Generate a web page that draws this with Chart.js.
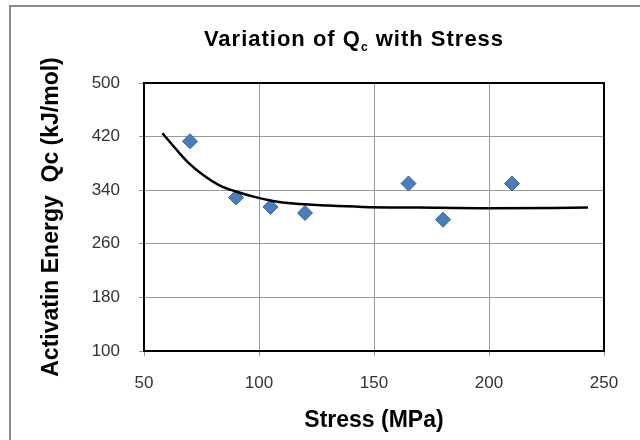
<!DOCTYPE html>
<html lang="en">
<head>
<meta charset="UTF-8">
<title>Variation of Qc with Stress</title>
<script src="https://cdn.jsdelivr.net/npm/chart.js"></script>
<style>
    body {
        margin: 0;
        padding: 0;
        background: #fff;
        overflow: hidden;
    }
    .wrap {
        position: relative;
        width: 640px;
        height: 440px;
        overflow: hidden;
    }
    .frame {
        position: absolute;
        left: 9px;
        top: 5px;
        width: 700px;
        height: 500px;
        border: 2px solid #8c8c8c;
        pointer-events: none;
    }
    .title {
        position: absolute;
        left: 154px;
        width: 400px;
        top: 26px;
        text-align: center;
        font-family: "Liberation Sans", Arial, sans-serif;
        font-weight: bold;
        font-size: 22px;
        letter-spacing: 1px;
        color: #000;
    }
    .title sub {
        font-size: 12px;
    }
    canvas {
        position: absolute;
        left: 0;
        top: 0;
    }
</style>
</head>
<body>
<div class="wrap">
    <canvas id="chart" width="640" height="440"></canvas>
    <div class="frame"></div>
    <div class="title">Variation of Q<sub>c</sub> with Stress</div>
</div>

<script>
    // measured points
    const stress = [70, 90, 105, 120, 165, 180, 210];
    const energy = [413, 329, 315, 306, 350, 296, 350];

    // fitted trend line
    const fitStress = [58, 65, 69, 76, 83, 90, 98, 106, 115, 130, 145, 170, 200, 243];
    const fitEnergy = [425, 397, 382, 362, 347, 338, 330, 324, 320, 317, 315, 314, 313, 314];

    // axes
    const xMin = 50, xMax = 250, xStep = 50;
    const yMin = 100, yMax = 500, yStep = 80;

    const points = stress.map((s, i) => ({ x: s, y: energy[i] }));
    const fit = fitStress.map((s, i) => ({ x: s, y: fitEnergy[i] }));

    const plotBorder = {
        id: 'plotBorder',
        beforeDatasetsDraw(chart) {
            const { ctx, chartArea } = chart;
            ctx.save();
            ctx.strokeStyle = '#000';
            ctx.lineWidth = 2;
            ctx.strokeRect(chartArea.left, chartArea.top,
                chartArea.right - chartArea.left, chartArea.bottom - chartArea.top);
            ctx.restore();
        }
    };

    const tickFont = { family: '"Liberation Sans", Arial, sans-serif', size: 17 };
    const titleFont = { family: '"Liberation Sans", Arial, sans-serif', size: 23, weight: 'bold' };

    new Chart(document.getElementById('chart'), {
        type: 'scatter',
        data: {
            datasets: [
                {
                    label: 'Fit',
                    data: fit,
                    showLine: true,
                    borderColor: '#000',
                    borderWidth: 2.5,
                    pointRadius: 0,
                    cubicInterpolationMode: 'monotone',
                    order: 0
                },
                {
                    label: 'Qc',
                    data: points,
                    pointStyle: 'rectRot',
                    pointRadius: 7.5,
                    backgroundColor: '#4a7ebb',
                    borderColor: '#3a649a',
                    borderWidth: 1,
                    order: 1
                }
            ]
        },
        options: {
            responsive: false,
            animation: false,
            layout: { padding: { left: 0, right: 36, top: 83, bottom: 0 } },
            plugins: {
                legend: { display: false },
                tooltip: { enabled: false }
            },
            scales: {
                x: {
                    type: 'linear',
                    min: xMin,
                    max: xMax,
                    afterFit: (scale) => { scale.height = 89; },
                    ticks: { stepSize: xStep, font: tickFont, color: '#333', padding: 17 },
                    grid: { color: '#999', lineWidth: 1, tickLength: 5 },
                    border: { display: false },
                    title: {
                        display: true,
                        text: 'Stress (MPa)',
                        font: titleFont,
                        color: '#000',
                        padding: { top: 0, bottom: 6 }
                    }
                },
                y: {
                    type: 'linear',
                    min: yMin,
                    max: yMax,
                    afterFit: (scale) => { scale.width = 144; },
                    ticks: { stepSize: yStep, font: tickFont, color: '#333', padding: 19 },
                    grid: { color: '#999', lineWidth: 1, tickLength: 5 },
                    border: { display: false },
                    title: {
                        display: true,
                        text: 'Activatin Energy  Qc (kJ/mol)',
                        font: titleFont,
                        color: '#000',
                        padding: { top: 38, bottom: 0 }
                    }
                }
            }
        },
        plugins: [plotBorder]
    });
</script>
</body>
</html>
